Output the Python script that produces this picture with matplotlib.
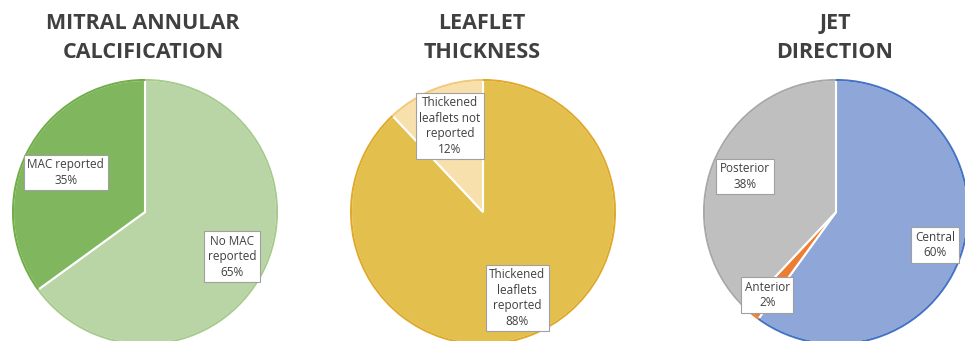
import matplotlib
matplotlib.use("Agg")
import matplotlib.pyplot as plt
import matplotlib.patches as mpatches

plt.rcParams['font.family'] = ['Open Sans', 'DejaVu Sans']

titles = ['MITRAL ANNULAR\nCALCIFICATION', 'LEAFLET\nTHICKNESS', 'JET\nDIRECTION']

mac_labels = ['No MAC\nreported', 'MAC reported']
mac_values = [65, 35]
mac_colors = ['#b9d5a6', '#80b65e']
mac_edges = ['#a6cb8c', '#70ad47']

leaf_labels = ['Thickened\nleaflets\nreported', 'Thickened\nleaflets not\nreported']
leaf_values = [88, 12]
leaf_colors = ['#e3c04e', '#f7e0ab']
leaf_edges = ['#e0a92a', '#f2c97a']

jet_labels = ['Central', 'Anterior', 'Posterior']
jet_values = [60, 2, 38]
jet_colors = ['#8ea7d8', '#ed7d31', '#bfbfbf']
jet_edges = ['#4472c4', '#ed7d31', '#a8a8a8']

W, H = 965, 341
R = 132  # pie radius in px

fig = plt.figure(figsize=(W / 100, H / 100), dpi=100)
fig.patch.set_facecolor('white')

# pie centres (px from left, px from top), title centres, label spots in axes units
centers = [(145, 212), (483, 212), (836, 212)]
title_x = [143, 482, 835]
label_pos = [
    [(0.66, -0.34), (-0.60, 0.30)],
    [(0.26, -0.65), (-0.25, 0.65)],
    [(0.75, -0.25), (-0.52, -0.63), (-0.69, 0.27)],
]

charts = [
    (mac_labels, mac_values, mac_colors, mac_edges),
    (leaf_labels, leaf_values, leaf_colors, leaf_edges),
    (jet_labels, jet_values, jet_colors, jet_edges),
]

for i, (labels, values, colors, edges) in enumerate(charts):
    cx, cy = centers[i]
    ax = fig.add_axes([(cx - R) / W, (H - cy - R) / H, 2 * R / W, 2 * R / H])
    wedges, _ = ax.pie(values, colors=colors, startangle=90, counterclock=False,
                       radius=1, wedgeprops=dict(edgecolor='white', linewidth=1.5))
    # coloured outer rim, like the original
    for w, ec in zip(wedges, edges):
        arc = mpatches.Arc((0, 0), 2, 2, theta1=w.theta1, theta2=w.theta2,
                           color=ec, lw=1.5, clip_on=False)
        ax.add_patch(arc)
    ax.set_xlim(-1, 1)
    ax.set_ylim(-1, 1)
    ax.set_aspect('equal')
    ax.axis('off')
    for (lx, ly), lab, v in zip(label_pos[i], labels, values):
        ax.text(lx, ly, f'{lab}\n{v}%', ha='center', va='center', fontsize=8.5,
                color='#404040', linespacing=1.25, zorder=5,
                bbox=dict(boxstyle='square,pad=0.3', fc='white', ec='#a0a0a0', lw=0.8))
    fig.text(title_x[i] / W, 1 - 38 / H, titles[i], ha='center', va='center',
             fontsize=15.5, fontweight='bold', color='#404040', linespacing=1.45)

fig.savefig('out.png', dpi=100, facecolor='white')
